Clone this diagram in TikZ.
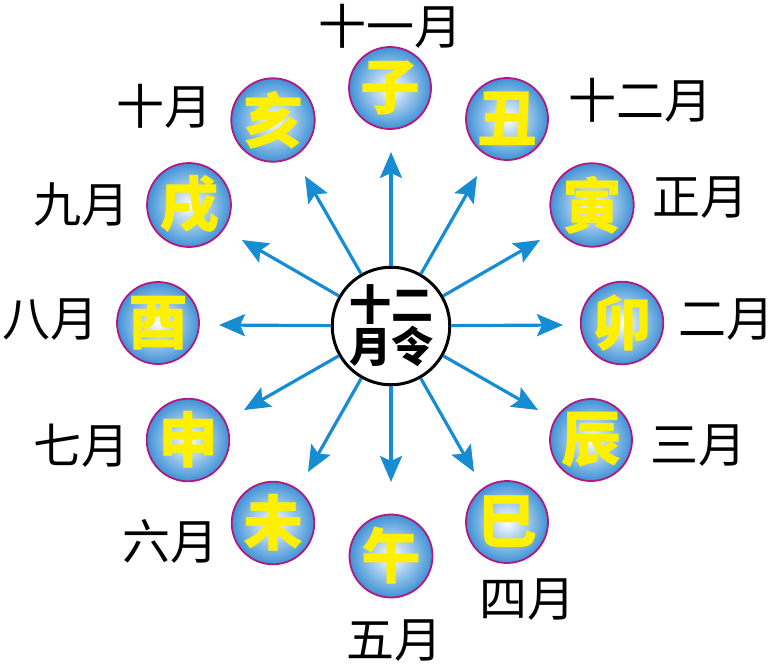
\documentclass[tikz,border=0pt]{standalone}
\usepackage{fontspec}
\usepackage{tikz}
\usetikzlibrary{arrows.meta}
\newfontfamily\cjk{Noto Sans CJK SC}
\definecolor{ballblue}{RGB}{62,146,214}
\definecolor{ballrim}{RGB}{178,24,128}
\definecolor{ballyellow}{RGB}{255,240,0}
\definecolor{rayblue}{RGB}{22,140,210}

\begin{document}
\begin{tikzpicture}[x=1pt,y=1pt]
	\tikzstyle{every node}+=[inner sep=0pt]
	\tikzstyle{branch}=[circle, minimum size=82pt, draw=ballrim, line width=1.8pt, inner color=white, outer color=ballblue, text=ballyellow, font=\cjk\bfseries\fontsize{60}{60}\selectfont]
	\tikzstyle{month}=[font=\cjk\fontsize{48}{48}\selectfont]
	\tikzstyle{ray}=[rayblue, line width=3.2pt, -{Stealth[length=26pt,width=22pt,inset=5pt]}]
	\useasboundingbox (0,0) rectangle (777,-667);
	% centre
	\node [draw, circle, line width=3pt, fill=white, minimum size=100pt, align=center, font=\cjk\bfseries\fontsize{42}{42}\selectfont] (hub) at (391,-326) {十二\\月令};
	% twelve branches
	\node [branch] (zi) at (390,-88) {子};
	\node [branch] (chou) at (507,-119) {丑};
	\node [branch] (yin) at (592,-205) {寅};
	\node [branch] (mao) at (622,-323) {卯};
	\node [branch] (chen) at (591,-440) {辰};
	\node [branch] (si) at (507,-522) {巳};
	\node [branch] (wu) at (391,-556) {午};
	\node [branch] (wei) at (273,-523) {未};
	\node [branch] (shen) at (188,-440) {申};
	\node [branch] (you) at (158,-323) {酉};
	\node [branch] (xu) at (189,-205) {戌};
	\node [branch] (hai) at (273,-120) {亥};
	% months
	\node [month] (m11) at (390,-26) {十一月};
	\node [month] (m12) at (640,-100) {十二月};
	\node [month] (m1) at (700,-198) {正月};
	\node [month] (m2) at (726,-320) {二月};
	\node [month] (m3) at (698,-446) {三月};
	\node [month] (m4) at (527,-600) {四月};
	\node [month] (m5) at (394,-641) {五月};
	\node [month] (m6) at (170,-541) {六月};
	\node [month] (m7) at (82,-446) {七月};
	\node [month] (m8) at (50,-320) {八月};
	\node [month] (m9) at (82,-205) {九月};
	\node [month] (m10) at (164,-106) {十月};
	% arrow ends
	\coordinate (tzi) at (391,-152);
	\coordinate (tchou) at (477,-176);
	\coordinate (tyin) at (540,-240);
	\coordinate (tmao) at (563,-325);
	\coordinate (tchen) at (538,-410);
	\coordinate (tsi) at (474,-472);
	\coordinate (twu) at (391,-482);
	\coordinate (twei) at (308,-472);
	\coordinate (tshen) at (244,-410);
	\coordinate (tyou) at (219,-325);
	\coordinate (txu) at (242,-240);
	\coordinate (thai) at (305,-176);
	\draw [ray] (hub) -- (tzi);
	\draw [ray] (hub) -- (tchou);
	\draw [ray] (hub) -- (tyin);
	\draw [ray] (hub) -- (tmao);
	\draw [ray] (hub) -- (tchen);
	\draw [ray] (hub) -- (tsi);
	\draw [ray] (hub) -- (twu);
	\draw [ray] (hub) -- (twei);
	\draw [ray] (hub) -- (tshen);
	\draw [ray] (hub) -- (tyou);
	\draw [ray] (hub) -- (txu);
	\draw [ray] (hub) -- (thai);
\end{tikzpicture}
\end{document}
